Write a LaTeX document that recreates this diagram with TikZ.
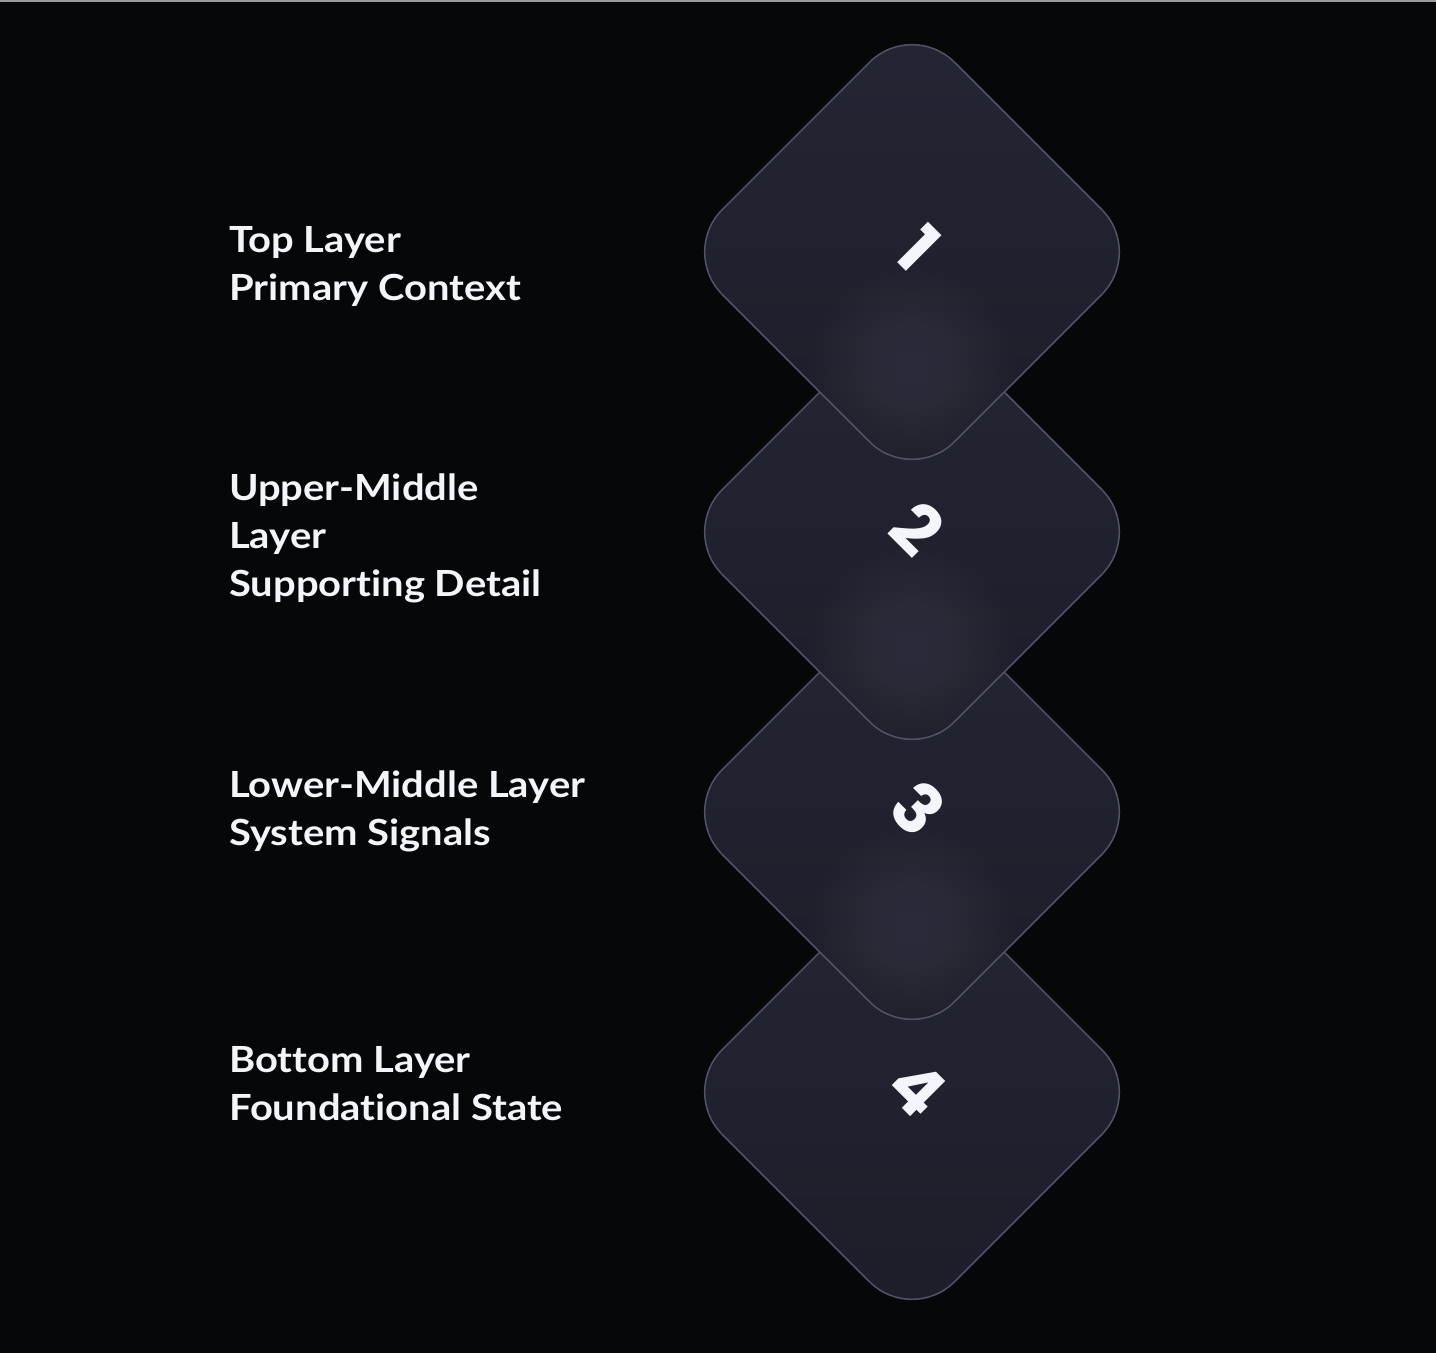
\documentclass[tikz,border=0pt]{standalone}
\usepackage{fontspec}
\setmainfont{Lato}[Ligatures={NoCommon}, FakeStretch=1.11]
\newfontfamily\digitfont{Poppins}
\usetikzlibrary{shapes.geometric,calc}
\definecolor{bg}{HTML}{060709}
\definecolor{cardtop}{HTML}{252635}
\definecolor{cardbot}{HTML}{1C1D28}
\definecolor{cardedge}{HTML}{50536A}
\definecolor{glowc}{HTML}{3C3D50}
\definecolor{ink}{HTML}{F4F5FA}
\definecolor{topline}{HTML}{9A9A9A}
\begin{document}
\begin{tikzpicture}[x=1pt,y=1pt,
  card/.style={diamond, aspect=1, minimum size=465pt, inner sep=0pt,
    rounded corners=60pt, top color=cardtop, bottom color=cardbot,
    draw=cardedge, line width=1.5pt},
  glowcard/.style={card, path picture={
    \foreach \r in {6,12,...,102}{
      \fill[glowc, opacity=0.05]
        ($(path picture bounding box.center)+(0,-118)$) circle (\r);}}},
  digit/.style={text=ink, font=\digitfont\bfseries\fontsize{69}{69}\selectfont,
    rotate=-45, inner sep=0pt},
  lab/.style={text=ink, font=\bfseries\fontsize{36}{48}\selectfont,
    align=left, anchor=base west, inner sep=0pt}]
\fill[bg] (0,0) rectangle (1436,-1353);
\useasboundingbox (0,0) rectangle (1436,-1353);
\fill[topline] (0,0) rectangle (1436,-1.5);

\node[card] (d4) at (912,-1092) {};
\node[glowcard] (d3) at (912,-812) {};
\node[glowcard] (d2) at (912,-532) {};
\node[glowcard] (d1) at (912,-252) {};

\node[digit] (n1) at ($(d1)+(6,4)$) {1};
\node[digit] (n2) at ($(d2)+(6,4)$) {2};
\node[digit] (n3) at ($(d3)+(6,4)$) {3};
\node[digit] (n4) at ($(d4)+(6,4)$) {4};

\node[lab] (l1) at (229,-300) {Top Layer\\Primary Context};
\node[lab] (l2) at (229,-596) {Upper-Middle\\Layer\\Supporting Detail};
\node[lab] (l3) at (229,-845) {Lower-Middle Layer\\System Signals};
\node[lab] (l4) at (229,-1120) {Bottom Layer\\Foundational State};
\end{tikzpicture}
\end{document}
